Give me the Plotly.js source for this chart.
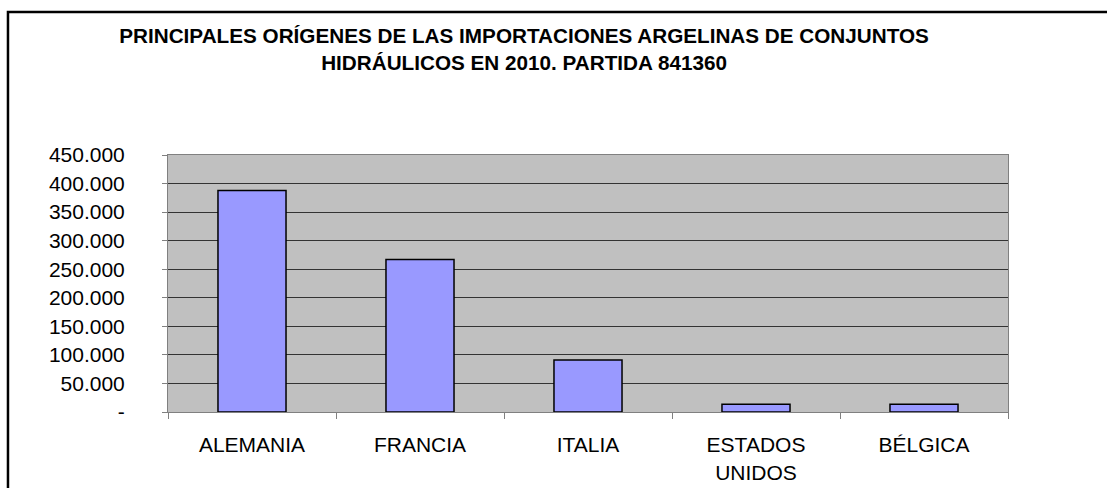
<!DOCTYPE html>
<html>
<head>
<meta charset="utf-8">
<script src="https://cdn.plot.ly/plotly-3.0.1.min.js"></script>
<style>
  html, body { margin: 0; padding: 0; background: #fff; }
  #chart { width: 1107px; height: 488px; }
</style>
</head>
<body>
<div id="chart"></div>
<script>
const paises = ["ALEMANIA", "FRANCIA", "ITALIA", "ESTADOS<br>UNIDOS", "BÉLGICA"];
const importaciones = [388000, 267000, 91000, 13500, 13500];
const yTicks = [0, 50000, 100000, 150000, 200000, 250000, 300000, 350000, 400000, 450000];
const yTickText = ["-", "50.000", "100.000", "150.000", "200.000", "250.000", "300.000", "350.000", "400.000", "450.000"];

const font = "Liberation Sans, Arial, sans-serif";

Plotly.newPlot("chart", [
    {
        type: "bar",
        x: paises,
        y: importaciones,
        marker: {
            color: "#9999FF",
            line: { color: "#000000", width: 1.5 }
        },
        hoverinfo: "x+y"
    }
], {
    width: 1107,
    height: 488,
    paper_bgcolor: "#ffffff",
    plot_bgcolor: "#C0C0C0",
    showlegend: false,
    bargap: 0.595,
    margin: { l: 168, r: 99, t: 155, b: 76 },
    title: {
        text: "<b>PRINCIPALES ORÍGENES DE LAS IMPORTACIONES ARGELINAS DE CONJUNTOS<br>HIDRÁULICOS EN 2010. PARTIDA 841360</b>",
        font: { family: font, size: 20.7, color: "#000" },
        x: 0.4734,
        xanchor: "center",
        xref: "container",
        y: 0.912,
        yanchor: "top",
        yref: "container"
    },
    xaxis: {
        type: "category",
        tickson: "boundaries",
        ticks: "outside",
        ticklen: 6,
        tickcolor: "#808080",
        showline: true,
        linecolor: "#808080",
        linewidth: 1,
        mirror: true,
        showgrid: false,
        tickfont: { family: font, size: 21, color: "#000" },
        ticklabelstandoff: 14,
        fixedrange: true
    },
    yaxis: {
        range: [0, 450000],
        tickvals: yTicks,
        ticktext: yTickText,
        ticks: "outside",
        ticklen: 5,
        tickcolor: "#808080",
        showline: true,
        linecolor: "#808080",
        linewidth: 1,
        mirror: true,
        showgrid: true,
        gridcolor: "#333333",
        gridwidth: 1,
        zeroline: false,
        tickfont: { family: font, size: 21, color: "#000" },
        ticklabelstandoff: 33,
        fixedrange: true
    },
    shapes: [
        {
            type: "rect",
            xref: "paper", yref: "paper",
            x0: -0.1905, x1: 1.3,
            y0: -0.6, y1: 1.556,
            line: { color: "#000", width: 2.5 },
            fillcolor: "rgba(0,0,0,0)",
            layer: "below"
        }
    ]
}, { displayModeBar: false, staticPlot: true });
</script>
</body>
</html>
